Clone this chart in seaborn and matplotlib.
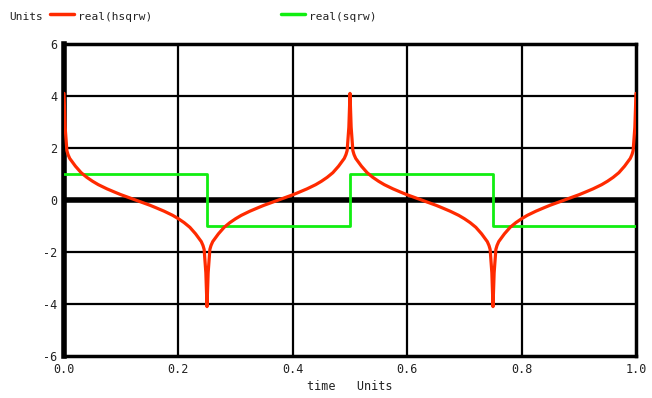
import numpy as np
import pandas as pd
import matplotlib
matplotlib.use("Agg")
import matplotlib.pyplot as plt
import seaborn as sns
from matplotlib.lines import Line2D

# 数据：从图中读取
t_h = [0.0, 0.002, 0.005, 0.007, 0.01, 0.015, 0.02, 0.03, 0.04, 0.05, 0.06, 0.075, 0.09, 0.1, 0.11,
       0.125, 0.14, 0.15, 0.16, 0.175, 0.19, 0.2, 0.21, 0.22, 0.23, 0.235, 0.24, 0.243, 0.245, 0.248,
       0.25, 0.252, 0.255, 0.257, 0.26, 0.265, 0.27, 0.28, 0.29, 0.3, 0.31, 0.325, 0.34, 0.35, 0.36,
       0.375, 0.39, 0.4, 0.41, 0.425, 0.44, 0.45, 0.46, 0.47, 0.48, 0.485, 0.49, 0.493, 0.495, 0.498,
       0.5, 0.502, 0.505, 0.507, 0.51, 0.515, 0.52, 0.53, 0.54, 0.55, 0.56, 0.575, 0.59, 0.6, 0.61,
       0.625, 0.64, 0.65, 0.66, 0.675, 0.69, 0.7, 0.71, 0.72, 0.73, 0.735, 0.74, 0.743, 0.745, 0.748,
       0.75, 0.752, 0.755, 0.757, 0.76, 0.765, 0.77, 0.78, 0.79, 0.8, 0.81, 0.825, 0.84, 0.85, 0.86,
       0.875, 0.89, 0.9, 0.91, 0.925, 0.94, 0.95, 0.96, 0.97, 0.98, 0.985, 0.99, 0.993, 0.995, 0.998, 1.0]
hsqrw = [4.1, 2.8, 1.9, 1.75, 1.6, 1.45, 1.3, 1.05, 0.87, 0.72, 0.59, 0.43, 0.29, 0.2, 0.12,
         0.0, -0.12, -0.2, -0.29, -0.43, -0.59, -0.72, -0.87, -1.05, -1.3, -1.45, -1.6, -1.75, -1.9, -2.8,
         -4.1, -2.8, -1.9, -1.75, -1.6, -1.45, -1.3, -1.05, -0.87, -0.72, -0.59, -0.43, -0.29, -0.2, -0.12,
         0.0, 0.12, 0.2, 0.29, 0.43, 0.59, 0.72, 0.87, 1.05, 1.3, 1.45, 1.6, 1.75, 1.9, 2.8,
         4.1, 2.8, 1.9, 1.75, 1.6, 1.45, 1.3, 1.05, 0.87, 0.72, 0.59, 0.43, 0.29, 0.2, 0.12,
         0.0, -0.12, -0.2, -0.29, -0.43, -0.59, -0.72, -0.87, -1.05, -1.3, -1.45, -1.6, -1.75, -1.9, -2.8,
         -4.1, -2.8, -1.9, -1.75, -1.6, -1.45, -1.3, -1.05, -0.87, -0.72, -0.59, -0.43, -0.29, -0.2, -0.12,
         0.0, 0.12, 0.2, 0.29, 0.43, 0.59, 0.72, 0.87, 1.05, 1.3, 1.45, 1.6, 1.75, 1.9, 2.8, 4.1]
t_s = [0.0, 0.25, 0.5, 0.75, 1.0]
sqrw = [1, -1, 1, -1, -1]

x_ticks = [0.0, 0.2, 0.4, 0.6, 0.8, 1.0]
y_ticks = [-6, -4, -2, 0, 2, 4, 6]

RED = "#ff2a00"
GREEN = "#11ee11"

sns.set_style("white")
plt.rcParams["font.family"] = ["DejaVu Sans Mono"]
plt.rcParams["axes.unicode_minus"] = False

fig = plt.figure(figsize=(6.52, 3.98), dpi=100)
ax = fig.add_axes([64 / 652, 42 / 398, 572 / 652, 312 / 398])

# 网格线
for xv in x_ticks[1:-1]:
    ax.axvline(xv, color="black", lw=1.6, zorder=1)
for yv in y_ticks[1:-1]:
    ax.axhline(yv, color="black", lw=4 if yv == 0 else 1.6, zorder=1)

df_h = pd.DataFrame({"t": t_h, "v": hsqrw})
df_s = pd.DataFrame({"t": t_s, "v": sqrw})
sns.lineplot(data=df_s, x="t", y="v", ax=ax, color=GREEN, lw=2, drawstyle="steps-post", zorder=3)
sns.lineplot(data=df_h, x="t", y="v", ax=ax, color=RED, lw=2.3, zorder=4)

ax.set_xlim(0, 1)
ax.set_ylim(-6, 6)
ax.set_xticks(x_ticks)
ax.set_xticklabels([f"{v:.1f}" for v in x_ticks])
ax.set_yticks(y_ticks)
ax.set_yticklabels([str(v) for v in y_ticks])
ax.tick_params(length=0, labelsize=8.5, colors="#222222", pad=5)
ax.set_xlabel("time   Units", fontsize=8.5, labelpad=3, color="#222222")
ax.set_ylabel("")
for side, sp in ax.spines.items():
    sp.set_visible(True)
    sp.set_color("black")
    sp.set_linewidth(4 if side == "left" else 2.5)

# 顶部图例
fig.text(9 / 652, 1 - 17 / 398, "Units", fontsize=8, va="center", color="#222222")
fig.add_artist(Line2D([50 / 652, 74 / 652], [1 - 14 / 398] * 2, color=RED, lw=2.5))
fig.text(78 / 652, 1 - 17 / 398, "real(hsqrw)", fontsize=8, va="center", color="#222222")
fig.add_artist(Line2D([281 / 652, 305 / 652], [1 - 14 / 398] * 2, color=GREEN, lw=2.5))
fig.text(309 / 652, 1 - 17 / 398, "real(sqrw)", fontsize=8, va="center", color="#222222")

fig.savefig("out.png", dpi=100)
